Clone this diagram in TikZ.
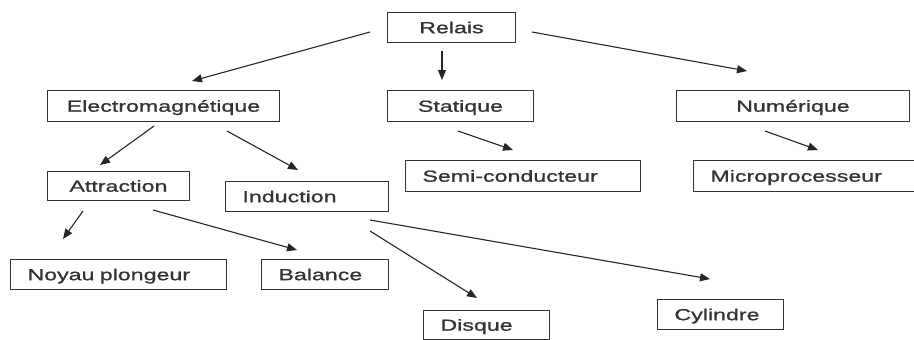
\documentclass[tikz,border=0pt]{standalone}
\usepackage{fontspec}
\setmainfont{Liberation Sans}[FakeStretch=1.45,FakeBold=1.1]
\usetikzlibrary{arrows.meta}
\begin{document}
\begin{tikzpicture}[x=1pt,y=-1pt,
  box/.style={draw=black!80,line width=0.9pt,inner xsep=17pt,inner ysep=0pt,
    anchor=north west,text height=11.5pt,text depth=0pt,
    font=\fontsize{16}{19}\selectfont,text=black!80},
  arr/.style={draw=black!85,line width=1.1pt,-{Triangle[length=10pt,width=8pt]}}]
\useasboundingbox (0,0) rectangle (914,340);
\clip (0,0) rectangle (914,340);

% boxes
\node[box,text width=94pt,align=center,minimum height=30pt] (relais) at (387,12) {Relais};
\node[box,text width=198pt,align=center,minimum height=31pt] (electro) at (47,90) {Electromagnétique};
\node[box,text width=112pt,align=center,minimum height=31pt] (statique) at (387,90) {Statique};
\node[box,text width=199pt,align=center,minimum height=31pt] (numerique) at (676,90) {Numérique};
\node[box,text width=108pt,align=center,minimum height=29pt] (attraction) at (47,171) {Attraction};
\node[box,text width=129pt,align=left,minimum height=30pt] (induction) at (225,181) {Induction};
\node[box,text width=201pt,align=left,minimum height=31pt] (semi) at (405,160) {Semi-conducteur};
\node[box,text width=193pt,align=left,minimum height=31pt] (micro) at (693,160) {Microprocesseur};
\node[box,text width=182pt,align=left,minimum height=30pt] (noyau) at (10,259) {Noyau plongeur};
\node[box,text width=93pt,align=left,minimum height=30pt] (balance) at (261,259) {Balance};
\node[box,text width=92pt,align=left,minimum height=29pt] (disque) at (423,310) {Disque};
\node[box,text width=92pt,align=left,minimum height=30pt] (cylindre) at (657,299) {Cylindre};

% free-standing arrow ends
\coordinate (re-a) at (370,32);  \coordinate (re-b) at (192,81);
\coordinate (rs-a) at (442,51);  \coordinate (rs-b) at (442,80);
\coordinate (rn-a) at (532,32);  \coordinate (rn-b) at (747,71);
\coordinate (ea-a) at (154,126); \coordinate (ea-b) at (100,165);
\coordinate (ei-a) at (227,131); \coordinate (ei-b) at (298,170);
\coordinate (ss-a) at (458,131); \coordinate (ss-b) at (513,150);
\coordinate (nm-a) at (765,131); \coordinate (nm-b) at (818,150);
\coordinate (an-a) at (83,211);  \coordinate (an-b) at (63,239);
\coordinate (ab-a) at (153,210); \coordinate (ab-b) at (297,250);
\coordinate (ic-a) at (370,220); \coordinate (ic-b) at (710,279);
\coordinate (id-a) at (370,231); \coordinate (id-b) at (477,298);

% arrows
\draw[arr] (re-a) -- (re-b);
\draw[arr] (rs-a) -- (rs-b);
\draw[arr] (rn-a) -- (rn-b);
\draw[arr] (ea-a) -- (ea-b);
\draw[arr] (ei-a) -- (ei-b);
\draw[arr] (ss-a) -- (ss-b);
\draw[arr] (nm-a) -- (nm-b);
\draw[arr] (an-a) -- (an-b);
\draw[arr] (ab-a) -- (ab-b);
\draw[arr] (ic-a) -- (ic-b);
\draw[arr] (id-a) -- (id-b);
\end{tikzpicture}
\end{document}
